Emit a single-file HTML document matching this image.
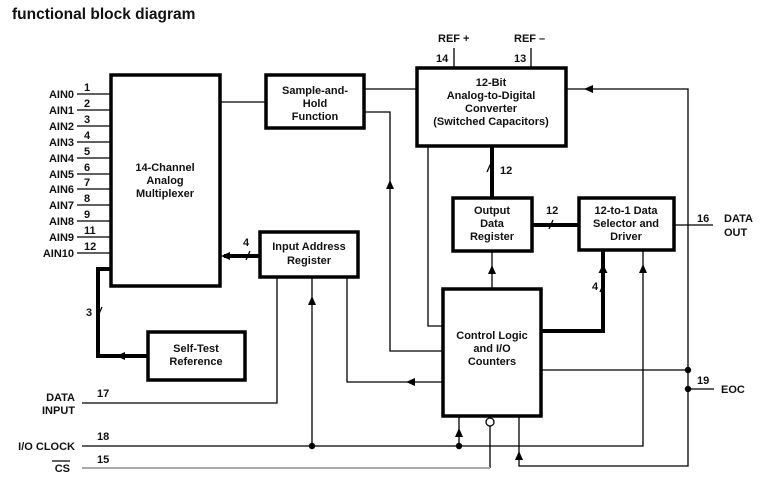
<!DOCTYPE html>
<html><head><meta charset="utf-8"><style>
html,body{margin:0;padding:0;background:#fff;width:765px;height:487px;overflow:hidden}
svg{display:block}
text{font-family:"Liberation Sans",sans-serif;font-weight:bold;font-size:11px;fill:#111}
.c{text-anchor:middle}.r{text-anchor:end}
</style></head><body>
<svg width="765" height="487" viewBox="0 0 765 487">
<text x="12" y="19" style="font-size:15.5px">functional block diagram</text>
<g fill="none" stroke="#000">
<!-- boxes -->
<g stroke-width="3.5">
<rect x="111" y="75" width="109" height="211"/>
<rect x="266" y="75" width="98" height="53"/>
<rect x="417" y="68" width="149" height="78"/>
<rect x="260" y="232" width="98" height="45"/>
<rect x="453" y="198" width="79" height="53"/>
<rect x="579" y="198" width="95" height="52"/>
<rect x="443" y="289" width="98" height="127"/>
<rect x="148" y="332" width="97" height="48"/>
</g>
<g stroke-width="1.3">
<!-- AIN lines -->
<path d="M77 94H111M77 110H111M77 126H111M77 142H111M77 158H111M77 174H111M77 189H111M77 205H111M77 221H111M77 237H111M77 253H111"/>
<path d="M220 102H266"/>
<path d="M364 89H417"/>
<path d="M364 112H390V351H443"/>
<path d="M454 48V68M531 48V68"/>
<path d="M566 89H688V466H519V416"/>
<path d="M428 146V326H443"/>
<path d="M492 289V251"/>
<path d="M674 225H713"/>
<path d="M541 370H688M688 389H714"/>
<path d="M347 277V382H443"/>
<path d="M277 277V403H82"/>
<path d="M312 277V446"/>
<path d="M82 446H643V250"/>
<path d="M459 446V416"/>
<path d="M490 426V468"/>
<path d="M98 316l4 -9M246 260l4 -9M487 172l4 -9M549 229l4 -9M600 292l4 -9"/>
</g>
<path d="M82 468H490" stroke="#aaa" stroke-width="2"/>
<g stroke-width="4">
<path d="M492 146V198"/>
<path d="M532 225H579"/>
<path d="M541 331H603V250"/>
<path d="M260 256H224"/>
<path d="M111 269H98V356H148"/>
</g>
<circle cx="490" cy="422" r="4" fill="#fff" stroke-width="1.3"/>
</g>
<g fill="#000">
<circle cx="312" cy="446" r="3.2"/><circle cx="459" cy="446" r="3.2"/>
<circle cx="688" cy="370" r="3.2"/><circle cx="688" cy="389" r="3.2"/>
<!-- arrows -->
<path d="M221 256l9 -4v8z"/>
<path d="M116 356l9 -4v8z"/>
<path d="M584 89l9 -4v8z"/>
<path d="M406 382l9 -4v8z"/>
<path d="M390 180l-4 9h8z"/>
<path d="M492 265l-4 9h8z"/>
<path d="M603 264l-4.5 9h9z"/>
<path d="M643 264l-4 9h8z"/>
<path d="M312 296l-4 9h8z"/>
<path d="M459 428l-4 9h8z"/>
<path d="M519 451l-4 9h8z"/>
</g>
<!-- labels -->
<g class="r">
<text x="74" y="98" class="r">AIN0</text><text x="74" y="114" class="r">AIN1</text>
<text x="74" y="130" class="r">AIN2</text><text x="74" y="146" class="r">AIN3</text>
<text x="74" y="162" class="r">AIN4</text><text x="74" y="178" class="r">AIN5</text>
<text x="74" y="193" class="r">AIN6</text><text x="74" y="209" class="r">AIN7</text>
<text x="74" y="225" class="r">AIN8</text><text x="74" y="241" class="r">AIN9</text>
<text x="74" y="257" class="r">AIN10</text>
</g>
<text x="84" y="91">1</text><text x="84" y="107">2</text><text x="84" y="123">3</text>
<text x="84" y="139">4</text><text x="84" y="155">5</text><text x="84" y="171">6</text>
<text x="84" y="186">7</text><text x="84" y="202">8</text><text x="84" y="218">9</text>
<text x="84" y="234">11</text><text x="84" y="250">12</text>
<text x="165" y="171" class="c">14-Channel</text><text x="165" y="184" class="c">Analog</text><text x="165" y="197" class="c">Multiplexer</text>
<text x="315" y="94" class="c">Sample-and-</text><text x="315" y="107" class="c">Hold</text><text x="315" y="120" class="c">Function</text>
<text x="491" y="86" class="c">12-Bit</text><text x="491" y="99" class="c">Analog-to-Digital</text><text x="491" y="112" class="c">Converter</text><text x="491" y="125" class="c">(Switched Capacitors)</text>
<text x="309" y="250" class="c">Input Address</text><text x="309" y="264" class="c">Register</text>
<text x="492" y="214" class="c">Output</text><text x="492" y="227" class="c">Data</text><text x="492" y="240" class="c">Register</text>
<text x="626" y="214" class="c">12-to-1 Data</text><text x="626" y="227" class="c">Selector and</text><text x="626" y="240" class="c">Driver</text>
<text x="492" y="339" class="c">Control Logic</text><text x="492" y="352" class="c">and I/O</text><text x="492" y="365" class="c">Counters</text>
<text x="196" y="352" class="c">Self-Test</text><text x="196" y="365" class="c">Reference</text>
<text x="438" y="42">REF +</text><text x="514" y="42">REF –</text>
<text x="436" y="62">14</text><text x="514" y="62">13</text>
<text x="500" y="174">12</text><text x="546" y="214">12</text>
<text x="592" y="290">4</text><text x="243" y="246">4</text><text x="86" y="316">3</text>
<text x="697" y="222">16</text><text x="724" y="222">DATA</text><text x="724" y="236">OUT</text>
<text x="697" y="384">19</text><text x="721" y="393">EOC</text>
<text x="75" y="401" class="r">DATA</text><text x="75" y="414" class="r">INPUT</text>
<text x="75" y="450" class="r">I/O CLOCK</text>
<text x="70" y="472" class="r">CS</text>
<path d="M52 461H70" stroke="#000" stroke-width="1.3"/>
<text x="97" y="397">17</text><text x="97" y="440">18</text><text x="97" y="463">15</text>
</svg>
</body></html>
